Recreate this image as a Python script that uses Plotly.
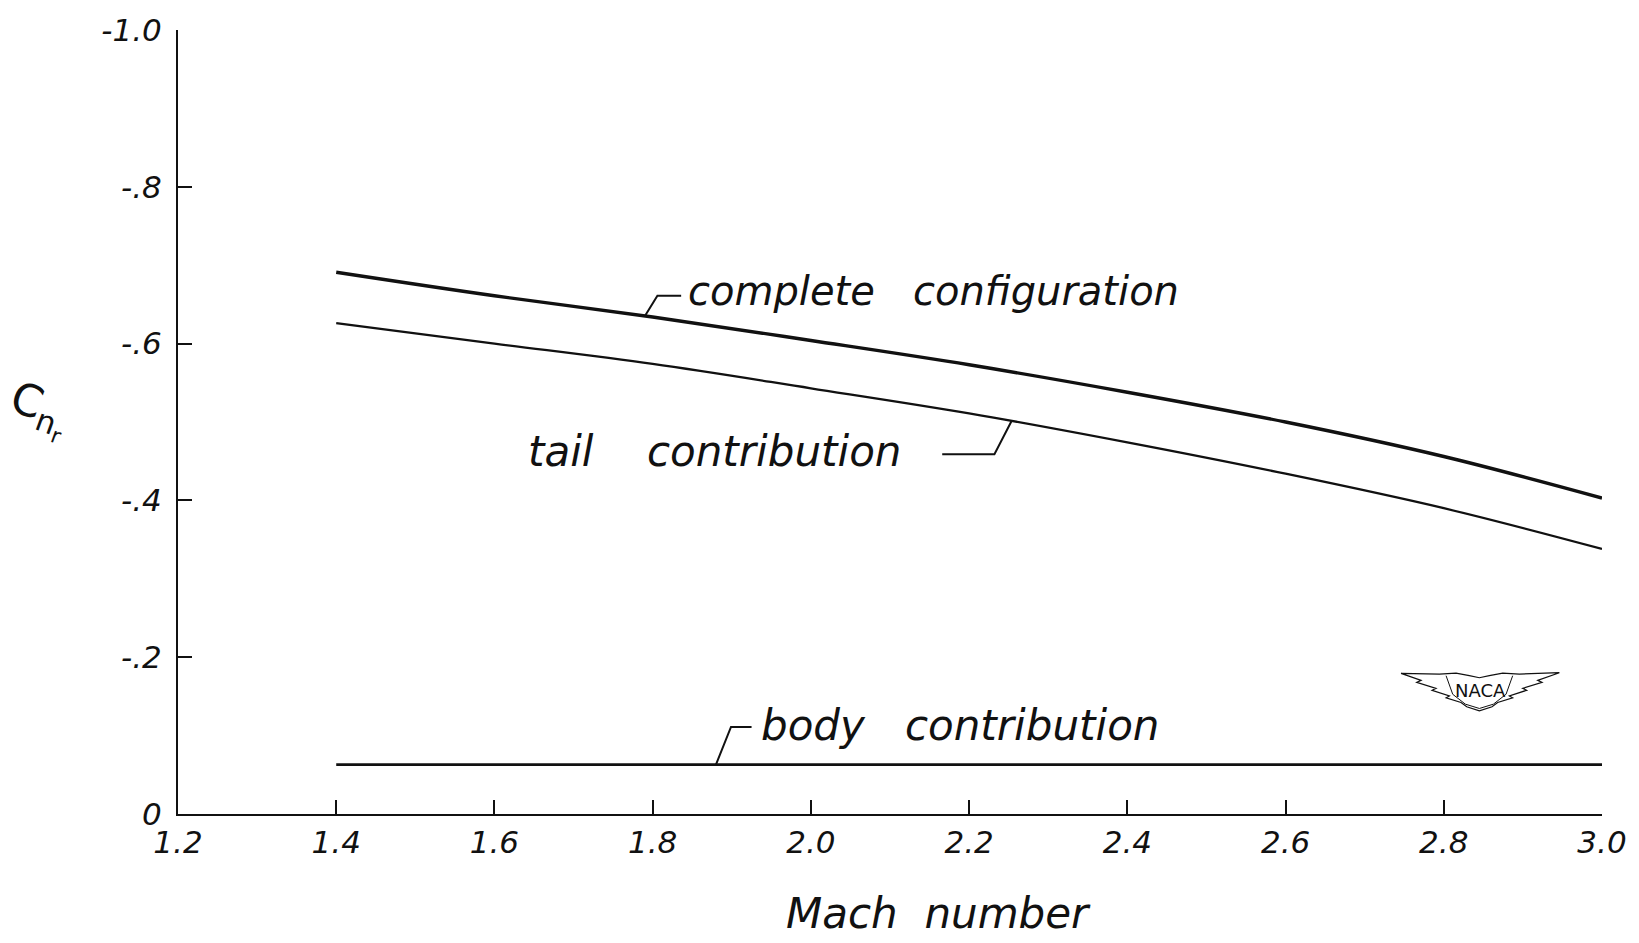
import plotly.graph_objects as go

# ---- data ----
mach = [1.4, 1.6, 1.8, 2.0, 2.2, 2.4, 2.6, 2.8, 3.0]
complete_cfg = [-0.691, -0.661, -0.634, -0.604, -0.573, -0.538, -0.500, -0.456, -0.403]
tail_contrib = [-0.626, -0.600, -0.574, -0.543, -0.511, -0.474, -0.434, -0.390, -0.338]
body_mach = [1.4, 3.0]
body_contrib = [-0.063, -0.063]

x_ticks = [1.2, 1.4, 1.6, 1.8, 2.0, 2.2, 2.4, 2.6, 2.8, 3.0]
x_ticktext = ["1.2", "1.4", "1.6", "1.8", "2.0", "2.2", "2.4", "2.6", "2.8", "3.0"]
y_ticks = [0, -0.2, -0.4, -0.6, -0.8, -1.0]
y_ticktext = ["0", "-.2", "-.4", "-.6", "-.8", "-1.0"]

FONT = "DejaVu Sans"
INK = "#111111"

fig = go.Figure()
fig.add_trace(go.Scatter(x=mach, y=complete_cfg, mode="lines", line=dict(color=INK, width=3.4, shape="spline"),
                         name="complete configuration", showlegend=False))
fig.add_trace(go.Scatter(x=mach, y=tail_contrib, mode="lines", line=dict(color=INK, width=2.3, shape="spline"),
                         name="tail contribution", showlegend=False))
fig.add_trace(go.Scatter(x=body_mach, y=body_contrib, mode="lines", line=dict(color=INK, width=2.6),
                         name="body contribution", showlegend=False))

lab_font = dict(family=FONT, size=40, color=INK, style="italic", weight=300)

annotations = [
    dict(x=1.842, y=-0.667, xref="x", yref="y", text="complete   configuration", showarrow=False,
         xanchor="left", yanchor="middle", font=lab_font),
    dict(x=1.640, y=-0.462, xref="x", yref="y", text="tail    contribution", showarrow=False,
         xanchor="left", yanchor="middle", font=dict(family=FONT, size=42, color=INK, style="italic", weight=300)),
    dict(x=1.935, y=-0.113, xref="x", yref="y", text="body   contribution", showarrow=False,
         xanchor="left", yanchor="middle", font=dict(family=FONT, size=42, color=INK, style="italic", weight=300)),
    dict(x=0.534, y=-0.127, xref="paper", yref="paper", text="Mach  number", showarrow=False,
         xanchor="center", yanchor="middle", font=dict(family=FONT, size=42, color=INK, style="italic", weight=300)),
    dict(x=-0.098, y=0.515, xref="paper", yref="paper", text="C<sub>n<sub>r</sub></sub>", showarrow=False,
         textangle=20, xanchor="center", yanchor="middle", font=dict(family=FONT, size=44, color=INK)),
    dict(x=2.846, y=-0.158, xref="x", yref="y", text="NACA", showarrow=False,
         xanchor="center", yanchor="middle", font=dict(family="DejaVu Sans", size=18, color=INK)),
]

# NACA emblem outline, given in small emblem-local units (decoration only)
def emb(pts, close=True):
    out = []
    for zx, zy in pts:
        px = 1380 + zx / 3.0
        py = 640 + zy / 3.0
        out.append((1.2 + (px - 178) / 791.5, -(814 - py) / 790.0))
    return "M " + " L ".join(f"{a:.4f},{b:.4f}" for a, b in out) + (" Z" if close else "")

wing = [(65, 97), (125, 118), (112, 124), (170, 142), (158, 148), (210, 165), (200, 171), (245, 185),
        (262, 198), (300, 210), (338, 198), (355, 185), (400, 171), (390, 165), (442, 148), (430, 142),
        (488, 124), (475, 118), (540, 95), (420, 99), (370, 96), (330, 104), (300, 110), (270, 104),
        (230, 96), (180, 99)]
shield = [(200, 104), (220, 160), (258, 190), (300, 203), (342, 190), (380, 160), (400, 104)]

shapes = [
    dict(type="path", xref="x", yref="y", path="M 1.790,-0.635 L 1.806,-0.661 L 1.836,-0.661",
         line=dict(color=INK, width=2)),
    dict(type="path", xref="x", yref="y", path="M 2.166,-0.459 L 2.232,-0.459 L 2.254,-0.502",
         line=dict(color=INK, width=2)),
    dict(type="path", xref="x", yref="y", path="M 1.880,-0.063 L 1.899,-0.111 L 1.925,-0.111",
         line=dict(color=INK, width=2)),
    dict(type="path", xref="x", yref="y", path=emb(wing), line=dict(color=INK, width=1.2)),
    dict(type="path", xref="x", yref="y", path=emb(shield, close=False), line=dict(color=INK, width=1)),
]

fig.update_layout(
    width=1639, height=943,
    margin=dict(l=178, r=37, t=24, b=129),
    paper_bgcolor="white", plot_bgcolor="white",
    annotations=annotations, shapes=shapes,
    xaxis=dict(range=[1.2, 3.0], tickvals=x_ticks, ticktext=x_ticktext, ticks="inside", ticklen=14,
               tickwidth=2, tickcolor=INK, showline=True, linecolor=INK, linewidth=2, showgrid=False,
               zeroline=False, ticklabelstandoff=0,
               tickfont=dict(family=FONT, size=31, color=INK, style="italic", weight=300)),
    yaxis=dict(range=[0, -1.0], tickvals=y_ticks, ticktext=y_ticktext, ticks="inside", ticklen=14,
               tickwidth=2, tickcolor=INK, showline=True, linecolor=INK, linewidth=2, showgrid=False,
               zeroline=False, ticklabelstandoff=8,
               tickfont=dict(family=FONT, size=31, color=INK, style="italic", weight=300)),
)

fig.write_html("out.html")
